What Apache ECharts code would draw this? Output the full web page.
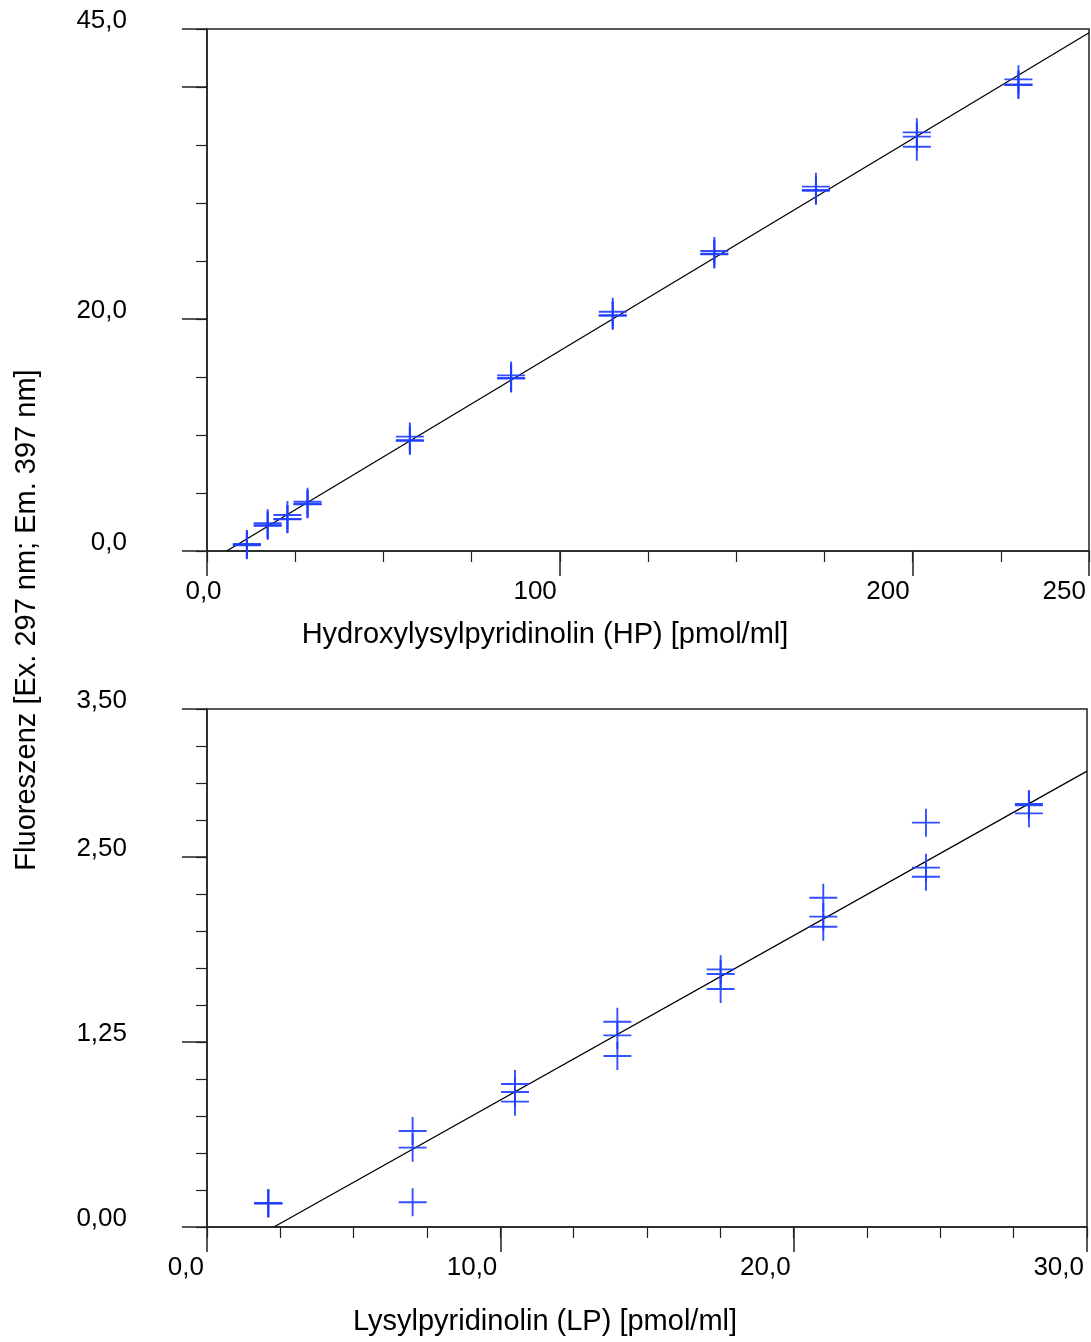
<!DOCTYPE html>
<html>
<head>
<meta charset="utf-8">
<script src="https://cdn.jsdelivr.net/npm/echarts@6/dist/echarts.min.js"></script>
<style>
html,body{margin:0;padding:0;background:#fff;}
#chart{width:1091px;height:1342px;}
</style>
</head>
<body>
<div id="chart"></div>
<script>
// ---- Data ----
// Top panel: Hydroxylysylpyridinolin (HP)
const hpX    = [11.3, 17.2, 22.8, 28.5, 57.5, 86.2, 115.0, 143.8, 172.6, 201.2, 230.0];
const hpRep1 = [0.60, 2.39, 3.10, 4.25, 9.86, 15.14, 20.63, 25.86, 31.41, 36.09, 40.66];
const hpRep2 = [0.55, 2.18, 2.73, 4.02, 9.51, 14.86, 20.28, 25.57, 31.06, 35.72, 40.17];
const hpRep3 = [0.50, 2.22, 2.76, 4.05, 9.55, 14.92, 20.33, 25.62, 31.12, 34.85, 40.22];
const hpFitX = [5.58, 250];
const hpFitY = [0, 44.68];

// Bottom panel: Lysylpyridinolin (LP)
const lpX    = [2.09, 7.01, 10.50, 13.99, 17.51, 21.01, 24.51, 28.02];
const lpRep1 = [0.16, 0.649, 0.966, 1.387, 1.741, 2.225, 2.732, 2.858];
const lpRep2 = [0.16, 0.536, 0.912, 1.295, 1.709, 2.097, 2.428, 2.850];
const lpRep3 = [0.16, 0.167, 0.847, 1.155, 1.608, 2.029, 2.367, 2.795];
const lpFitX = [2.28, 30];
const lpFitY = [0, 3.08];

// Axis ticks / labels
const hpXMajor = [0, 100, 200, 250];
const hpXLabels = [100, 200, 250];
const hpYMajor = [0, 20, 40, 45];
const hpYLabels = [0, 20, 45];
const lpXMajor = [0, 10, 20, 30];
const lpYMajor = [0, 1.25, 2.5, 3.5];

const titleX1 = 'Hydroxylysylpyridinolin (HP) [pmol/ml]';
const titleX2 = 'Lysylpyridinolin (LP) [pmol/ml]';
const titleY  = 'Fluoreszenz [Ex. 297 nm; Em. 397 nm]';

// ---- Styling ----
const FONT = '"Liberation Sans", Arial, sans-serif';
const BLUE = '#1e3cff';
const AX = '#222';
const cross = 'path://M5,0L5,10M0,5L10,5';
const comma = (v, d) => v.toFixed(d).replace('.', ',');

function pairs(xs, ys){ return xs.map((x,i)=>[x, ys[i]]); }

function mainX(grid, min, max, ticks, labels, fmt){
  return {
    type:'value', gridIndex:grid, min:min, max:max, position:'bottom',
    axisLine:{show:true, onZero:false, lineStyle:{color:AX, width:1.5}},
    axisTick:{show:true, length:25, customValues:ticks, lineStyle:{color:AX, width:1.5}},
    axisLabel:{show:true, customValues:labels, formatter:fmt, margin:28,
      fontSize:26, fontFamily:FONT, color:'#000', align:'right', padding:[0,3,0,0]},
    splitLine:{show:false}
  };
}
function minorX(grid, min, max, step, lbl){
  return {
    type:'value', gridIndex:grid, min:min, max:max, interval:step, position:'bottom',
    axisLine:{show:false},
    axisTick:{show:true, length:11, lineStyle:{color:AX, width:1.2}},
    axisLabel: lbl ? Object.assign({show:true, margin:28, fontSize:26, fontFamily:FONT, color:'#000'}, lbl) : {show:false},
    splitLine:{show:false}
  };
}
function mainY(grid, min, max, ticks, labels, fmt){
  return {
    type:'value', gridIndex:grid, min:min, max:max, position:'left',
    axisLine:{show:true, onZero:false, lineStyle:{color:AX, width:1.5}},
    axisTick:{show:true, length:25, customValues:ticks, lineStyle:{color:AX, width:1.5}},
    axisLabel:{show:true, customValues:labels, formatter:fmt, margin:80,
      fontSize:26, fontFamily:FONT, color:'#000', align:'right', verticalAlign:'bottom', lineHeight:16},
    splitLine:{show:false}
  };
}
function minorY(grid, min, max, step){
  return {
    type:'value', gridIndex:grid, min:min, max:max, interval:step, position:'left',
    axisLine:{show:false},
    axisTick:{show:true, length:11, lineStyle:{color:AX, width:1.2}},
    axisLabel:{show:false},
    splitLine:{show:false}
  };
}
function scatter(xi, yi, xs, ys){
  return {
    type:'scatter', xAxisIndex:xi, yAxisIndex:yi, data:pairs(xs, ys),
    symbol:cross, symbolSize:[28,28],
    itemStyle:{color:'none', borderColor:BLUE, borderWidth:1.9, opacity:0.9},
    emphasis:{disabled:true}, z:3
  };
}
function fit(xi, yi, xs, ys){
  return {
    type:'line', xAxisIndex:xi, yAxisIndex:yi, data:pairs(xs, ys),
    symbol:'none', lineStyle:{color:'#000', width:1.3}, z:2, emphasis:{disabled:true}
  };
}

const chart = echarts.init(document.getElementById('chart'), null, {renderer:'canvas'});
chart.setOption({
  animation:false,
  backgroundColor:'#fff',
  grid:[
    {left:207, top:29, width:882, height:522, show:true, borderColor:AX, borderWidth:1.5, backgroundColor:'transparent'},
    {left:207, top:709, width:880, height:518, show:true, borderColor:AX, borderWidth:1.5, backgroundColor:'transparent'}
  ],
  xAxis:[
    mainX(0, 0, 250, hpXMajor, hpXLabels, v => String(Math.round(v))),
    minorX(0, 0, 250, 25, {customValues:[0], formatter:v => comma(v,1), align:'center', padding:[0,7,0,0]}),
    mainX(1, 0, 30, lpXMajor, lpXMajor, v => comma(v,1)),
    minorX(1, 0, 30, 2.5, null)
  ],
  yAxis:[
    mainY(0, 0, 45, hpYMajor, hpYLabels, v => comma(v,1)),
    minorY(0, 0, 45, 5),
    mainY(1, 0, 3.5, lpYMajor, lpYMajor, v => comma(v,2)),
    minorY(1, 0, 3.5, 0.25)
  ],
  series:[
    fit(0, 0, hpFitX, hpFitY),
    scatter(0, 0, hpX, hpRep1),
    scatter(0, 0, hpX, hpRep2),
    scatter(0, 0, hpX, hpRep3),
    fit(2, 2, lpFitX, lpFitY),
    scatter(2, 2, lpX, lpRep1),
    scatter(2, 2, lpX, lpRep2),
    scatter(2, 2, lpX, lpRep3)
  ],
  graphic:[
    {type:'text', x:545, y:635, style:{text:titleX1, fontSize:29, fontFamily:FONT, fill:'#000', align:'center', verticalAlign:'middle'}},
    {type:'text', x:545, y:1322, style:{text:titleX2, fontSize:29, fontFamily:FONT, fill:'#000', align:'center', verticalAlign:'middle'}},
    {type:'text', x:27, y:620, rotation:Math.PI/2, style:{text:titleY, fontSize:29, fontFamily:FONT, fill:'#000', align:'center', verticalAlign:'middle'}}
  ]
});
</script>
</body>
</html>
